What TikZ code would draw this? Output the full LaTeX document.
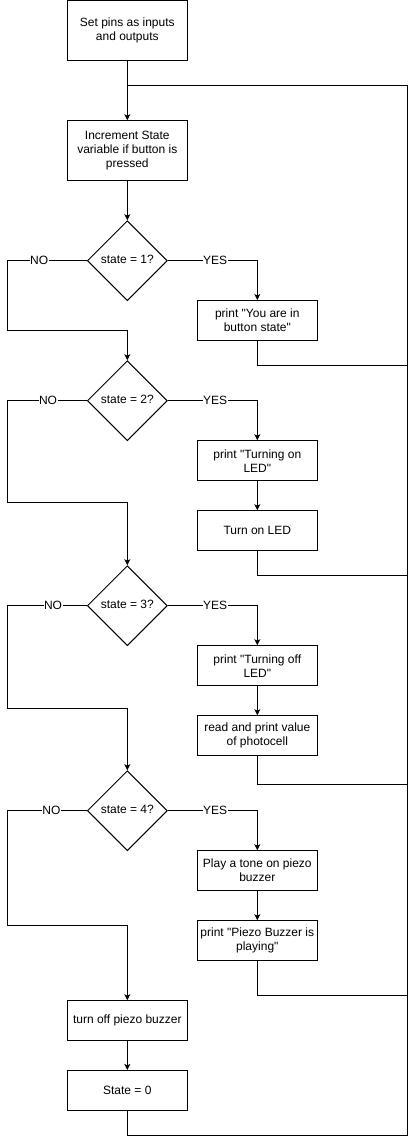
\documentclass[tikz,border=0pt]{standalone}
\usepackage{fontspec}
\setmainfont[Ligatures=TeXOff]{Liberation Sans}
\usetikzlibrary{shapes.geometric,arrows.meta,positioning}
\tikzset{
  box/.style={draw,line width=1pt,rectangle,minimum width=120pt,align=center,inner sep=1pt,font=\fontsize{12pt}{14pt}\selectfont},
  tall/.style={box,minimum height=60pt},
  short/.style={box,minimum height=40pt},
  dec/.style={draw,line width=1pt,diamond,minimum width=80pt,minimum height=80pt,inner sep=0pt,font=\fontsize{12pt}{14pt}\selectfont},
  lab/.style={fill=white,inner sep=0.5pt,font=\fontsize{12pt}{14pt}\selectfont},
  conn/.style={line width=1pt},
  arr/.style={conn,-{Stealth[length=6pt,width=6pt,inset=1.5pt]}}
}
\begin{document}
\begin{tikzpicture}[x=1pt,y=-1pt]
\useasboundingbox (0,0) rectangle (417,1147);
\fill[white] (0,0) rectangle (417,1147);
% nodes
\node[tall] (b1) at (127.3,30.5) {Set pins as inputs\\and outputs};
\node[tall] (b2) at (127.3,150.7) {Increment State\\variable if button is\\pressed};
\node[dec] (d1) at (127.3,260.7) {\raisebox{2pt}{state = 1?}};
\node[short] (p1) at (257.3,320.5) {print "You are in\\button state"};
\node[dec] (d2) at (127.3,400.7) {\raisebox{2pt}{state = 2?}};
\node[short] (p2a) at (257.3,460.7) {print "Turning on\\LED"};
\node[short] (p2b) at (257.3,530.7) {Turn on LED};
\node[dec] (d3) at (127.3,605.7) {\raisebox{2pt}{state = 3?}};
\node[short] (p3a) at (257.3,665.7) {print "Turning off\\LED"};
\node[short] (p3b) at (257.3,735.7) {read and print value\\of photocell};
\node[dec] (d4) at (127.3,810.7) {\raisebox{2pt}{state = 4?}};
\node[short] (p4a) at (257.3,870.7) {Play a tone on piezo\\buzzer};
\node[short] (p4b) at (257.3,940.7) {print "Piezo Buzzer is\\playing"};
\node[short] (t1) at (127.3,1020.7) {turn off piezo buzzer};
\node[short] (t2) at (127.3,1090.4) {State = 0};
% coordinates
\coordinate (jtop) at (127.3,85.3);
\coordinate (rtop) at (407.3,85.3);
\coordinate (rbot) at (407.3,1135.3);
\coordinate (r1) at (407.3,365.3);
\coordinate (r2) at (407.3,575.3);
\coordinate (r3) at (407.3,784.3);
\coordinate (r4) at (407.3,995.3);
\coordinate (n1) at (7.3,260.7);
\coordinate (m1) at (127.3,330);
\coordinate (n2) at (7.3,400.7);
\coordinate (m2) at (127.3,502.3);
\coordinate (n3) at (7.3,605.7);
\coordinate (m3) at (127.3,708);
\coordinate (n4) at (7.3,810.7);
\coordinate (m4) at (127.3,925);
% main spine
\draw[arr] (b1) -- (b2);
\draw[arr] (b2) -- (d1);
% loop back
\draw[conn] (t2.south) |- (rbot) -- (rtop) -- (jtop);
% state 1
\draw[arr] (d1.east) -| node[lab,pos=0.265]{YES} (p1.north);
\draw[conn] (p1.south) |- (r1);
\draw[arr] (d1.west) -- node[lab,pos=0.6]{NO} (n1) |- (m1) -- (d2.north);
% state 2
\draw[arr] (d2.east) -| node[lab,pos=0.265]{YES} (p2a.north);
\draw[arr] (p2a) -- (p2b);
\draw[conn] (p2b.south) |- (r2);
\draw[arr] (d2.west) -- node[lab,pos=0.4875]{NO} (n2) |- (m2) -- (d3.north);
% state 3
\draw[arr] (d3.east) -| node[lab,pos=0.265]{YES} (p3a.north);
\draw[arr] (p3a) -- (p3b);
\draw[conn] (p3b.south) |- (r3);
\draw[arr] (d3.west) -- node[lab,pos=0.425]{NO} (n3) |- (m3) -- (d4.north);
% state 4
\draw[arr] (d4.east) -| node[lab,pos=0.265]{YES} (p4a.north);
\draw[arr] (p4a) -- (p4b);
\draw[conn] (p4b.south) |- (r4);
\draw[arr] (d4.west) -- node[lab,pos=0.445]{NO} (n4) |- (m4) -- (t1.north);
% final
\draw[arr] (t1) -- (t2);
\end{tikzpicture}
\end{document}
